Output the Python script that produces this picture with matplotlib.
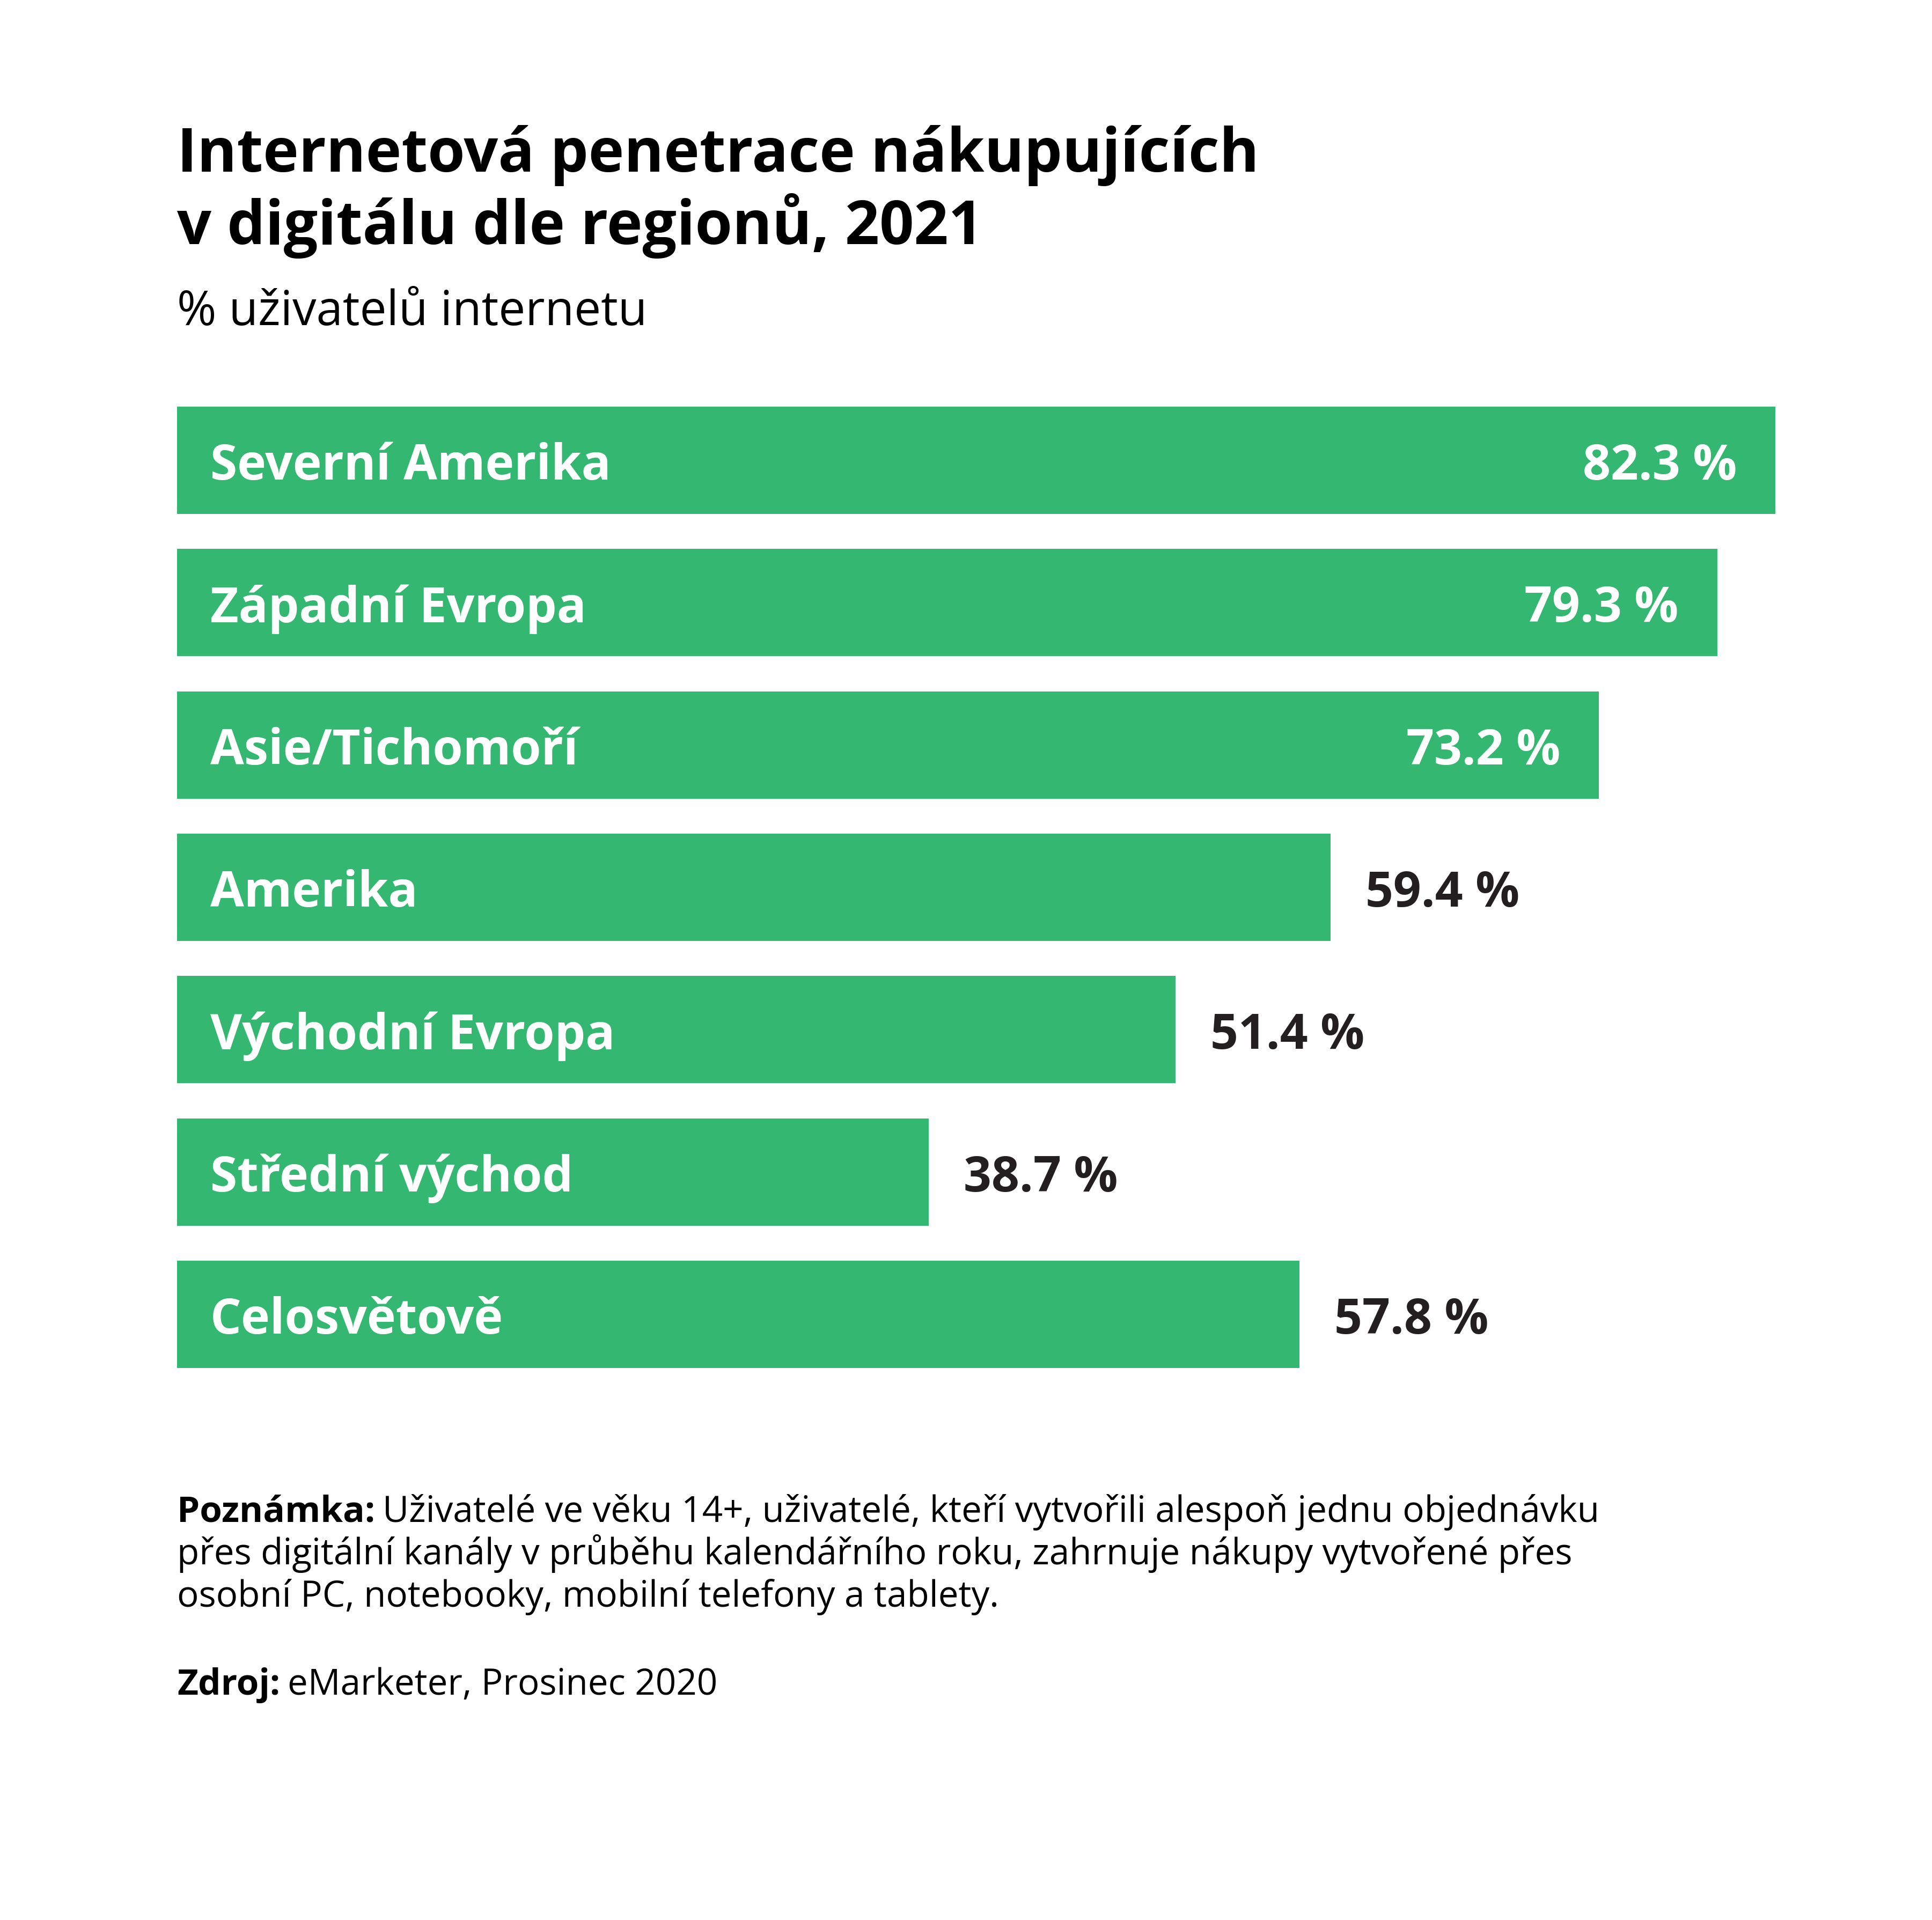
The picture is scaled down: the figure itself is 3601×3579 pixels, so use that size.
import matplotlib
matplotlib.use('Agg')
import matplotlib.pyplot as plt

regions = ['Severní Amerika', 'Západní Evropa', 'Asie/Tichomoří', 'Amerika',
           'Východní Evropa', 'Střední východ', 'Celosvětově']
values = [82.3, 79.3, 73.2, 59.4, 51.4, 38.7, 57.8]
inside = [True, True, True, False, False, False, False]

title_lines = ['Internetová penetrace nákupujících', 'v digitálu dle regionů, 2021']
subtitle = '% uživatelů internetu'
note_head = 'Poznámka:'
note_lines = ['Uživatelé ve věku 14+, uživatelé, kteří vytvořili alespoň jednu objednávku',
              'přes digitální kanály v průběhu kalendářního roku, zahrnuje nákupy vytvořené přes',
              'osobní PC, notebooky, mobilní telefony a tablety.']
src_head = 'Zdroj:'
src_text = 'eMarketer, Prosinec 2020'

GREEN = '#33b771'
DARK = '#231f20'
W, H = 3601, 3580
FONT = 'Open Sans'

fig = plt.figure(figsize=(W / 100, H / 100), dpi=100)
fig.patch.set_facecolor('white')


def fy(px):
    return 1 - px / H


def fx(px):
    return px / W


# osa s pruhy
px_per_unit = 36.2
left_px, right_px = 330, 330 + 82.3 * px_per_unit
top_px, bot_px = 759, 2551
ax = fig.add_axes([fx(left_px), fy(bot_px), fx(right_px - left_px), (bot_px - top_px) / H])
h = 200 / 265.5
ypos = list(range(len(regions)))
ax.barh(ypos, values, height=h, color=GREEN, edgecolor='none')
ax.set_xlim(0, 82.3)
ax.set_ylim(len(regions) - 1 + h / 2, -h / 2)
ax.axis('off')

for y, name, v, ins in zip(ypos, regions, values, inside):
    ax.text(62 / px_per_unit, y, name, color='white', fontsize=65.5, fontweight='bold',
            family=FONT, va='center_baseline', ha='left')
    lab = f'{v:.1f} %'
    if ins:
        ax.text(v - 72 / px_per_unit, y, lab, color='white', fontsize=65.5, fontweight='bold',
                family=FONT, va='center_baseline', ha='right')
    else:
        ax.text(v + 65 / px_per_unit, y, lab, color=DARK, fontsize=65.5, fontweight='bold',
                family=FONT, va='center_baseline', ha='left', clip_on=False)

# nadpis
for i, line in enumerate(title_lines):
    fig.text(fx(330), fy(320 + i * 135), line, fontsize=81, fontweight='bold',
             family=FONT, color='black', va='baseline')
fig.text(fx(330), fy(606), subtitle, fontsize=64, family=FONT, color='black', va='baseline')

# poznamka a zdroj
fig.canvas.draw()
renderer = fig.canvas.get_renderer()


def head_text(y, head, rest):
    t = fig.text(fx(330), fy(y), head, fontsize=48.5, fontweight='bold', family=FONT,
                 color='black', va='baseline')
    bb = t.get_window_extent(renderer)
    fig.text(fx(bb.x1 + 14), fy(y), rest, fontsize=48.5, family=FONT, color='black', va='baseline')


head_text(2837, note_head, note_lines[0])
for i, line in enumerate(note_lines[1:]):
    fig.text(fx(330), fy(2837 + (i + 1) * 79), line, fontsize=48.5, family=FONT,
             color='black', va='baseline')
head_text(3159, src_head, src_text)

fig.savefig('out.png', dpi=100, facecolor='white')
